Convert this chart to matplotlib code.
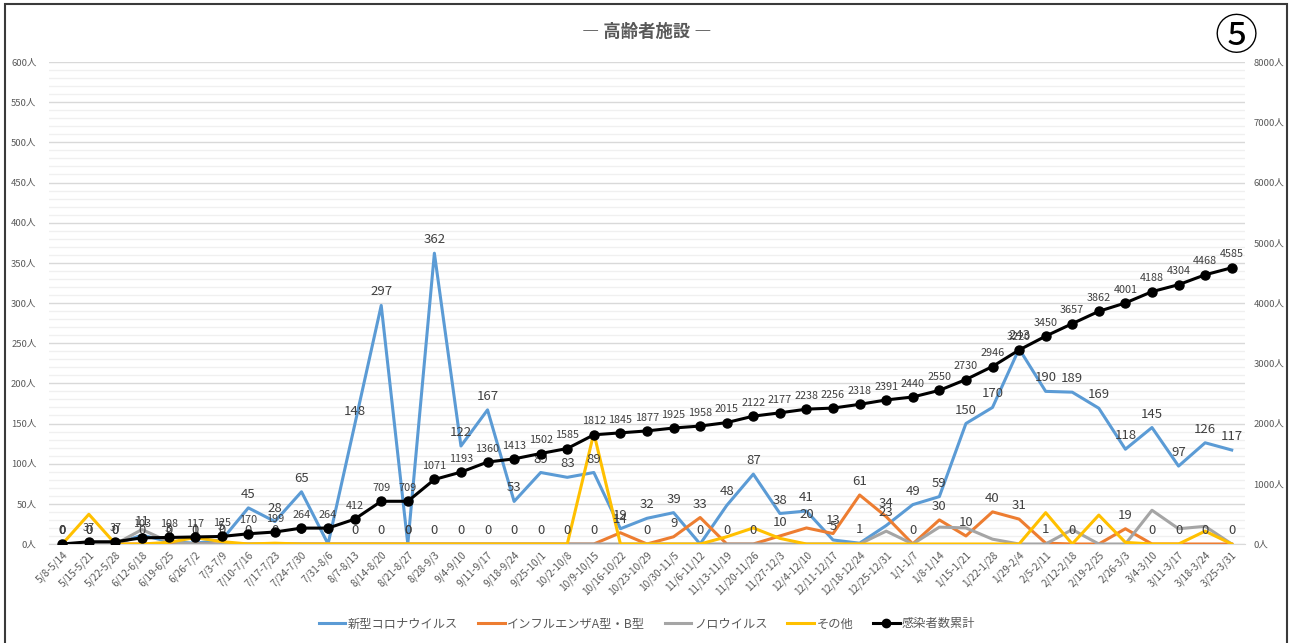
import numpy as np
import matplotlib.pyplot as plt
from matplotlib.lines import Line2D
from matplotlib.patches import Rectangle
from matplotlib.ticker import MultipleLocator, FuncFormatter

plt.rcParams['font.family'] = ['Noto Sans CJK JP', 'DejaVu Sans']

weeks = ['5/8-5/14', '5/15-5/21', '5/22-5/28', '6/12-6/18', '6/19-6/25', '6/26-7/2',
         '7/3-7/9', '7/10-7/16', '7/17-7/23', '7/24-7/30', '7/31-8/6', '8/7-8/13',
         '8/14-8/20', '8/21-8/27', '8/28-9/3', '9/4-9/10', '9/11-9/17', '9/18-9/24',
         '9/25-10/1', '10/2-10/8', '10/9-10/15', '10/16-10/22', '10/23-10/29',
         '10/30-11/5', '11/6-11/12', '11/13-11/19', '11/20-11/26', '11/27-12/3',
         '12/4-12/10', '12/11-12/17', '12/18-12/24', '12/25-12/31', '1/1-1/7',
         '1/8-1/14', '1/15-1/21', '1/22-1/28', '1/29-2/4', '2/5-2/11', '2/12-2/18',
         '2/19-2/25', '2/26-3/3', '3/4-3/10', '3/11-3/17', '3/18-3/24', '3/25-3/31']

corona = [0, 0, 0, 11, 3, 1, 5, 45, 28, 65, 0, 148, 297, 0, 362, 122, 167, 53, 89, 83,
          89, 19, 32, 39, 0, 48, 87, 38, 41, 5, 1, 23, 49, 59, 150, 170, 243, 190, 189,
          169, 118, 145, 97, 126, 117]
flu = [0, 0, 0, 0, 0, 0, 0, 0, 0, 0, 0, 0, 0, 0, 0, 0, 0, 0, 0, 0,
       0, 14, 0, 9, 33, 0, 0, 10, 20, 13, 61, 34, 0, 30, 10, 40, 31, 1, 0,
       0, 19, 0, 0, 0, 0]
noro = [0, 0, 0, 18, 3, 0, 0, 0, 0, 0, 0, 0, 0, 0, 0, 0, 0, 0, 0, 0,
        0, 0, 0, 0, 0, 0, 0, 0, 0, 0, 0, 16, 0, 21, 20, 6, 0, 0, 18,
        0, 0, 42, 19, 22, 0]
other = [0, 37, 0, 0, 2, 8, 3, 0, 1, 0, 0, 0, 0, 0, 0, 0, 0, 0, 0, 0,
         138, 0, 0, 0, 0, 9, 20, 7, 0, 0, 0, 0, 0, 0, 0, 0, 0, 39, 0,
         36, 2, 0, 0, 16, 0]
cumulative = [0, 37, 37, 103, 108, 117, 125, 170, 199, 264, 264, 412, 709, 709, 1071,
              1193, 1360, 1413, 1502, 1585, 1812, 1845, 1877, 1925, 1958, 2015, 2122,
              2177, 2238, 2256, 2318, 2391, 2440, 2550, 2730, 2946, 3220, 3450, 3657,
              3862, 4001, 4188, 4304, 4468, 4585]

x = np.arange(len(weeks))
txt = '#595959'

fig = plt.figure(figsize=(12.92, 6.43), dpi=100)
ax = fig.add_axes([49 / 1292, 1 - 544 / 643, (1245 - 49) / 1292, (544 - 62) / 643])
ax2 = ax.twinx()

ax.plot(x, corona, color='#5B9BD5', lw=2.2, zorder=3)
ax.plot(x, flu, color='#ED7D31', lw=2.2, zorder=3)
ax.plot(x, noro, color='#A5A5A5', lw=2.2, zorder=3)
ax.plot(x, other, color='#FFC000', lw=2.2, zorder=3)
ax2.plot(x, cumulative, color='black', lw=2.2, marker='o', ms=6.5)

# data labels: corona / influenza / cumulative
for i in range(len(x)):
    ax.annotate(str(corona[i]), (x[i], corona[i]), xytext=(0, 5), textcoords='offset points',
                ha='center', va='bottom', fontsize=9.5, color='#404040')
    ax.annotate(str(flu[i]), (x[i], flu[i]), xytext=(0, 5), textcoords='offset points',
                ha='center', va='bottom', fontsize=9.5, color='#404040')
    ax2.annotate(str(cumulative[i]), (x[i], cumulative[i]), xytext=(0, 6),
                 textcoords='offset points', ha='center', va='bottom', fontsize=7.8,
                 color='#404040')

ax.set_xlim(-0.5, len(x) - 0.5)
ax.set_ylim(0, 600)
ax2.set_ylim(0, 8000)
ax.yaxis.set_major_locator(MultipleLocator(50))
ax.yaxis.set_minor_locator(MultipleLocator(10))
ax2.yaxis.set_major_locator(MultipleLocator(1000))
ax.yaxis.set_major_formatter(FuncFormatter(lambda v, p: f'{int(v)}人'))
ax2.yaxis.set_major_formatter(FuncFormatter(lambda v, p: f'{int(v)}人'))
ax.grid(axis='y', which='major', color='#d9d9d9', lw=1)
ax.grid(axis='y', which='minor', color='#f0f0f0', lw=1)
ax.set_axisbelow(True)

ax.set_xticks(x)
ax.set_xticklabels(weeks, rotation=45, ha='right', rotation_mode='anchor', fontsize=7.3, color=txt)
ax.tick_params(axis='x', length=0, pad=4)
ax.tick_params(axis='y', which='both', length=0, labelsize=6.8, labelcolor=txt, pad=9)
ax2.tick_params(axis='y', length=0, labelsize=6.8, labelcolor=txt, pad=6)
for a in (ax, ax2):
    for s in a.spines.values():
        s.set_visible(False)
ax.spines['bottom'].set_visible(True)
ax.spines['bottom'].set_color('#d9d9d9')

fig.text(647 / 1292, 1 - 32 / 643, '― 高齢者施設 ―', ha='center', va='center',
         fontsize=12.5, fontweight='bold', color=txt)
fig.text(1236 / 1292, 1 - 38 / 643, '⑤', ha='center', va='center', fontsize=31,
         color='black', family=['Noto Sans CJK JP', 'DejaVu Sans'])

handles = [Line2D([], [], color='#5B9BD5', lw=2.2),
           Line2D([], [], color='#ED7D31', lw=2.2),
           Line2D([], [], color='#A5A5A5', lw=2.2),
           Line2D([], [], color='#FFC000', lw=2.2),
           Line2D([], [], color='black', lw=2.2, marker='o', ms=6)]
labels = ['新型コロナウイルス', 'インフルエンザA型・B型', 'ノロウイルス', 'その他', '感染者数累計']
fig.legend(handles, labels, loc='center', bbox_to_anchor=(647 / 1292, 1 - 624 / 643),
           ncol=5, frameon=False, fontsize=8.8, labelcolor=txt, handlelength=2.2,
           handletextpad=0.2, columnspacing=1.6)

fig.patches.append(Rectangle((5 / 1292, -0.01), 1282 / 1292, 1 - 4 / 643 + 0.01,
                             transform=fig.transFigure, fill=False, ec='#3a3a3a', lw=1.5))

fig.savefig('out.png', dpi=100)
